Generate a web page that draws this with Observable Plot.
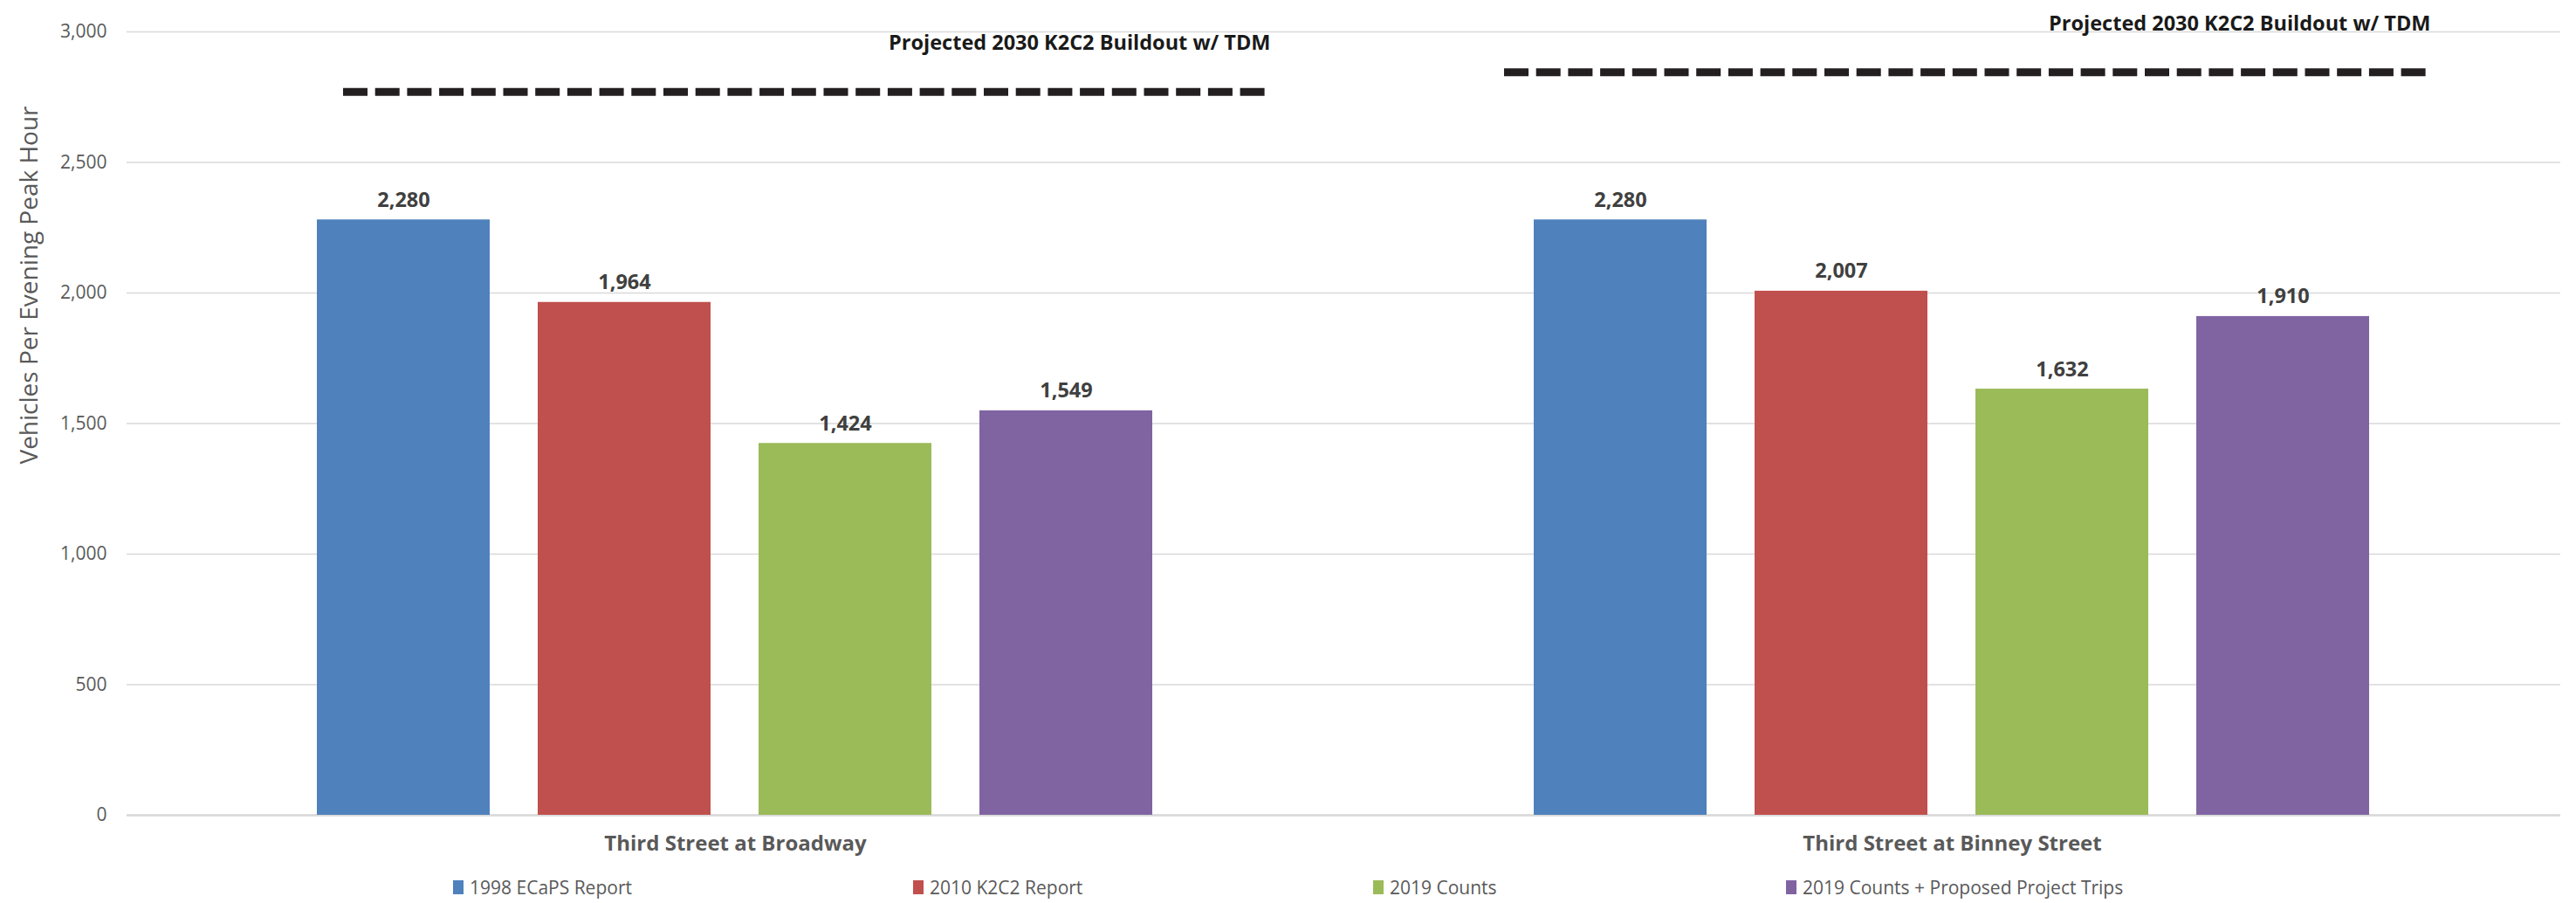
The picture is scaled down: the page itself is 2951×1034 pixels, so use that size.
<!DOCTYPE html>
<html><head><meta charset="utf-8">
<script src="https://cdn.jsdelivr.net/npm/d3@7"></script>
<script src="https://cdn.jsdelivr.net/npm/@observablehq/plot@0.6"></script>
<style>
body{margin:0;background:#fff;font-family:"Open Sans",sans-serif;}
#legend{position:relative;height:41px;width:2951px;}
.item{position:absolute;top:11px;display:flex;align-items:center;font-size:21px;color:#595959;white-space:nowrap;line-height:24px;}
.sw{width:12px;height:16px;margin-right:7px;}
</style></head><body><div id="chart"></div><div id="legend"></div>
<script>
const groups = ["Third Street at Broadway", "Third Street at Binney Street"];
const seriesNames = ["1998 ECaPS Report", "2010 K2C2 Report", "2019 Counts", "2019 Counts + Proposed Project Trips"];
const broadwayValues = [2280, 1964, 1424, 1549];
const binneyValues = [2280, 2007, 1632, 1910];
const projected2030 = [2770, 2845];
const projectedLabel = "Projected 2030 K2C2 Buildout w/ TDM";
const yTicks = [0, 500, 1000, 1500, 2000, 2500, 3000];
const colors = ["#4F81BD", "#C0504D", "#9BBB59", "#8064A2"];
const yLabel = "Vehicles Per Evening Peak Hour";

const groupValues = [broadwayValues, binneyValues];
const bars = groups.flatMap((g, i) => seriesNames.map((s, j) => ({group: g, series: s, value: groupValues[i][j]})));
const targets = groups.map((g, i) => ({group: g, value: projected2030[i], label: projectedLabel}));
const targetStyle = [{insetLeft: 248, insetRight: 84}, {insetLeft: 184, insetRight: 149}];
const fmt = d3.format(",");

const chart = Plot.plot({
  width: 2951, height: 993,
  marginTop: 36, marginRight: 18, marginBottom: 60, marginLeft: 145,
  style: {fontFamily: '"Open Sans", sans-serif', background: "#fff"},
  fx: {domain: groups, padding: 0, label: null},
  x: {domain: seriesNames, paddingInner: 0.217, paddingOuter: 0.862, axis: null},
  y: {domain: [0, 3000], axis: null},
  color: {domain: seriesNames, range: colors},
  marks: [
    Plot.gridY(yTicks, {stroke: "#D9D9D9", strokeOpacity: 1, strokeWidth: 1.5}),
    Plot.ruleY([0], {stroke: "#D9D9D9", strokeWidth: 2.5}),
    Plot.axisY(yTicks, {tickSize: 0, tickPadding: 23, tickFormat: fmt, fontSize: 21, color: "#595959", label: null}),
    Plot.axisFx({anchor: "bottom", tickSize: 0, tickPadding: 23, fontSize: 24, fontWeight: "bold", color: "#595959", label: null}),
    Plot.barY(bars, {fx: "group", x: "series", y: "value", fill: "series"}),
    Plot.text(bars, {fx: "group", x: "series", y: "value", text: d => fmt(d.value), dy: -15, lineAnchor: "bottom", fontSize: 23.5, fontWeight: "bold", fill: "#404040"}),
    ...targets.flatMap((t, i) => [
      Plot.ruleY([t], {fx: "group", y: "value", stroke: "#231F20", strokeWidth: 9, strokeDasharray: "28,8.7", ...targetStyle[i]}),
      Plot.text([t], {fx: "group", y: "value", text: "label", frameAnchor: "right", textAnchor: "end", dx: -targetStyle[i].insetRight, dy: -48, lineAnchor: "bottom", fontSize: 23.5, fontWeight: "bold", fill: "#1a1a1a"})
    ]),
    Plot.text([yLabel], {facet: "super", frameAnchor: "top-left", textAnchor: "middle", rotate: -90, dx: -122, dy: 290, fontSize: 28, fill: "#595959"})
  ]
});
document.getElementById("chart").appendChild(chart);

const legendLeft = [519, 1046, 1573, 2046];
const legend = document.getElementById("legend");
seriesNames.forEach((s, i) => {
  const item = document.createElement("div");
  item.className = "item";
  item.style.left = legendLeft[i] + "px";
  const sw = document.createElement("span");
  sw.className = "sw";
  sw.style.background = colors[i];
  item.appendChild(sw);
  item.appendChild(document.createTextNode(s));
  legend.appendChild(item);
});
</script>
</body></html>
